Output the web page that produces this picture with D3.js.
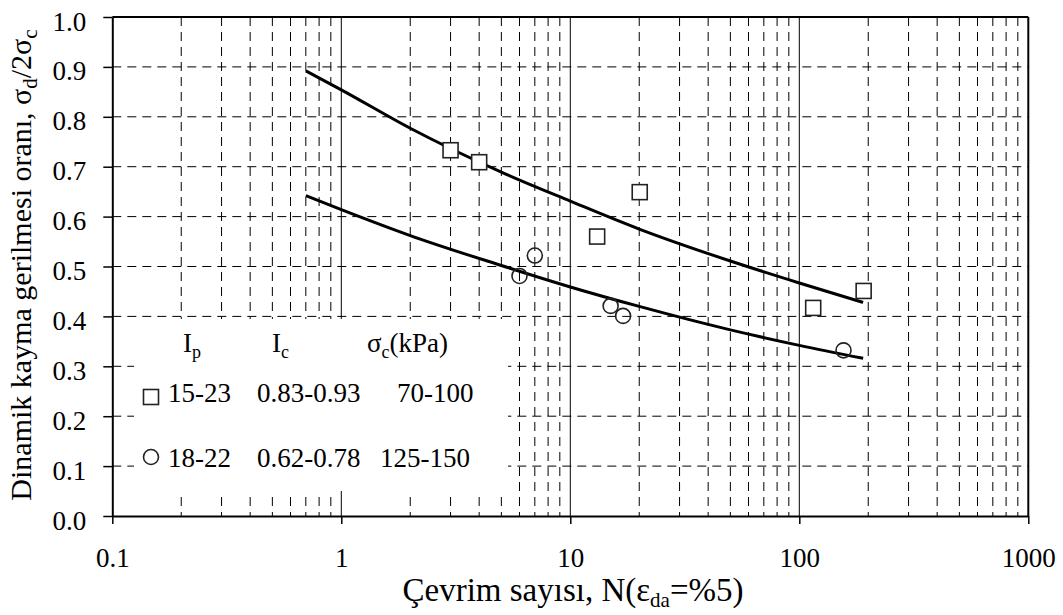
<!DOCTYPE html>
<html>
<head>
<meta charset="utf-8">
<script src="https://cdn.jsdelivr.net/npm/d3@7"></script>
<style>
  body { margin: 0; background: #fff; }
</style>
</head>
<body>
<svg id="svg" width="1063" height="615"></svg>
<script>
// data
var xTickValues = [0.1, 1, 10, 100, 1000];
var yTickValues = [0, 0.1, 0.2, 0.3, 0.4, 0.5, 0.6, 0.7, 0.8, 0.9, 1.0];

var squareN = [3.0, 4.0, 13.1, 20.1, 115, 191];
var squareR = [0.733, 0.709, 0.560, 0.649, 0.417, 0.451];

var circleN = [6.0, 7.0, 15.0, 17.0, 156];
var circleR = [0.481, 0.522, 0.421, 0.401, 0.332];

var upperN = [0.7, 1, 2, 5, 10, 20, 50, 100, 190];
var upperR = [0.892, 0.854, 0.777, 0.689, 0.631, 0.575, 0.511, 0.467, 0.428];

var lowerN = [0.7, 1, 2, 5, 10, 20, 50, 100, 190];
var lowerR = [0.642, 0.614, 0.562, 0.502, 0.459, 0.420, 0.373, 0.342, 0.316];

var legendRows = [
  { mark: "square", ip: "15-23", ic: "0.83-0.93", sc: "70-100" },
  { mark: "circle", ip: "18-22", ic: "0.62-0.78", sc: "125-150" }
];

var FONT = "'Liberation Serif'";

var svg = d3.select("#svg");

var pLeft = 112.3, pRight = 1028.3, pTop = 17, pBottom = 516;

var x = d3.scaleLog()
    .domain([0.1, 1000])
    .range([pLeft, pRight]);

var y = d3.scaleLinear()
    .domain([0, 1])
    .range([pBottom, pTop]);

// grid
var grid = svg.append("g").attr("class", "grid");

var minor = x.ticks().filter(function(d) { return xTickValues.indexOf(d) < 0; });

grid.selectAll("line.vminor")
  .data(minor)
  .enter().append("line")
    .attr("class", "vminor")
    .attr("x1", function(d) { return x(d); })
    .attr("x2", function(d) { return x(d); })
    .attr("y1", pTop)
    .attr("y2", pBottom)
    .attr("stroke", "#000")
    .attr("stroke-width", 1)
    .attr("stroke-dasharray", "9,6");

grid.selectAll("line.vmajor")
  .data(xTickValues.slice(1, 4))
  .enter().append("line")
    .attr("class", "vmajor")
    .attr("x1", function(d) { return x(d); })
    .attr("x2", function(d) { return x(d); })
    .attr("y1", pTop)
    .attr("y2", pBottom)
    .attr("stroke", "#000")
    .attr("stroke-width", 1);

grid.selectAll("line.h")
  .data(yTickValues.slice(1, 10))
  .enter().append("line")
    .attr("class", "h")
    .attr("x1", pLeft)
    .attr("x2", pRight)
    .attr("y1", function(d) { return y(d); })
    .attr("y2", function(d) { return y(d); })
    .attr("stroke", "#000")
    .attr("stroke-width", 1)
    .attr("stroke-dasharray", "9,6");

// white box behind legend
svg.append("rect")
    .attr("x", 134)
    .attr("y", 319)
    .attr("width", 374)
    .attr("height", 172)
    .attr("fill", "#fff");

// axes
var yAxis = svg.append("g")
    .attr("transform", "translate(" + pLeft + ",0)")
    .call(d3.axisLeft(y)
      .tickValues(yTickValues)
      .tickSize(9)
      .tickSizeOuter(0)
      .tickFormat(d3.format(".1f")));

var xAxis = svg.append("g")
    .attr("transform", "translate(0," + pBottom + ")")
    .call(d3.axisBottom(x)
      .tickValues(xTickValues)
      .tickSize(8)
      .tickSizeOuter(0)
      .tickFormat(function(d) { return String(d); }));

yAxis.attr("font-size", 27);
xAxis.attr("font-size", 27);

yAxis.selectAll("text")
    .attr("x", -26)
    .attr("dy", 13)
    .attr("fill", "#000");

xAxis.selectAll("text")
    .attr("y", 51)
    .attr("dy", 0)
    .attr("fill", "#000");

svg.selectAll(".domain").attr("stroke-width", 2);
svg.selectAll(".tick line").attr("stroke-width", 1.5);

// top and right borders
svg.append("line")
    .attr("x1", pLeft).attr("x2", pRight)
    .attr("y1", pTop).attr("y2", pTop)
    .attr("stroke", "#000").attr("stroke-width", 2);

svg.append("line")
    .attr("x1", pRight).attr("x2", pRight)
    .attr("y1", pTop).attr("y2", pBottom)
    .attr("stroke", "#000").attr("stroke-width", 2);

// trend curves
var line = d3.line()
    .x(function(d) { return x(d[0]); })
    .y(function(d) { return y(d[1]); })
    .curve(d3.curveMonotoneX);

svg.append("path")
    .datum(d3.zip(upperN, upperR))
    .attr("d", line)
    .attr("fill", "none")
    .attr("stroke", "#000")
    .attr("stroke-width", 3);

svg.append("path")
    .datum(d3.zip(lowerN, lowerR))
    .attr("d", line)
    .attr("fill", "none")
    .attr("stroke", "#000")
    .attr("stroke-width", 3);

// markers
var size = 15;

svg.selectAll("rect.sq")
  .data(d3.zip(squareN, squareR))
  .enter().append("rect")
    .attr("class", "sq")
    .attr("x", function(d) { return x(d[0]) - size / 2; })
    .attr("y", function(d) { return y(d[1]) - size / 2; })
    .attr("width", size)
    .attr("height", size)
    .attr("fill", "#fff")
    .attr("stroke", "#222")
    .attr("stroke-width", 1.6);

svg.selectAll("circle.ci")
  .data(d3.zip(circleN, circleR))
  .enter().append("circle")
    .attr("class", "ci")
    .attr("cx", function(d) { return x(d[0]); })
    .attr("cy", function(d) { return y(d[1]); })
    .attr("r", size / 2)
    .attr("fill", "none")
    .attr("stroke", "#222")
    .attr("stroke-width", 1.6);

// legend
var lg = svg.append("g").attr("font-size", 27);

function sub(t, main, s, fs) {
  t.append("tspan").text(main);
  t.append("tspan").attr("font-size", fs || 18).attr("dy", 6).text(s);
  return t;
}

sub(lg.append("text").attr("x", 183).attr("y", 352), "I", "p");
sub(lg.append("text").attr("x", 272).attr("y", 352), "I", "c");
var sc = sub(lg.append("text").attr("x", 367).attr("y", 352), "σ", "c");
sc.append("tspan").attr("dy", -6).text("(kPa)");

var rowY = [402, 467];

legendRows.forEach(function(r, i) {
  var by = rowY[i];
  if (r.mark === "square") {
    lg.append("rect")
        .attr("x", 151 - size / 2).attr("y", by - 5 - size / 2)
        .attr("width", size).attr("height", size)
        .attr("fill", "#fff").attr("stroke", "#222").attr("stroke-width", 1.6);
  } else {
    lg.append("circle")
        .attr("cx", 151).attr("cy", by - 10)
        .attr("r", size / 2)
        .attr("fill", "none").attr("stroke", "#222").attr("stroke-width", 1.6);
  }
  lg.append("text").attr("x", 168).attr("y", by).text(r.ip);
  lg.append("text").attr("x", 257).attr("y", by).text(r.ic);
  lg.append("text").attr("x", i === 0 ? 397 : 380).attr("y", by).text(r.sc);
});

// axis titles
var xt = svg.append("text")
    .attr("x", 573)
    .attr("y", 601)
    .attr("text-anchor", "middle")
    .attr("font-size", 33);
xt.append("tspan").text("Çevrim sayısı, N(ε");
xt.append("tspan").attr("font-size", 21).attr("dy", 6).text("da");
xt.append("tspan").attr("dy", -6).text("=%5)");

var yt = svg.append("text")
    .attr("transform", "translate(31,265) rotate(-90)")
    .attr("text-anchor", "middle")
    .attr("font-size", 30);
yt.append("tspan").text("Dinamik kayma gerilmesi oranı, σ");
yt.append("tspan").attr("font-size", 21).attr("dy", 6).text("d");
yt.append("tspan").attr("dy", -6).text("/2σ");
yt.append("tspan").attr("font-size", 21).attr("dy", 6).text("c");

// serif face on every text
svg.selectAll("text").attr("font-family", FONT);
</script>
</body>
</html>
